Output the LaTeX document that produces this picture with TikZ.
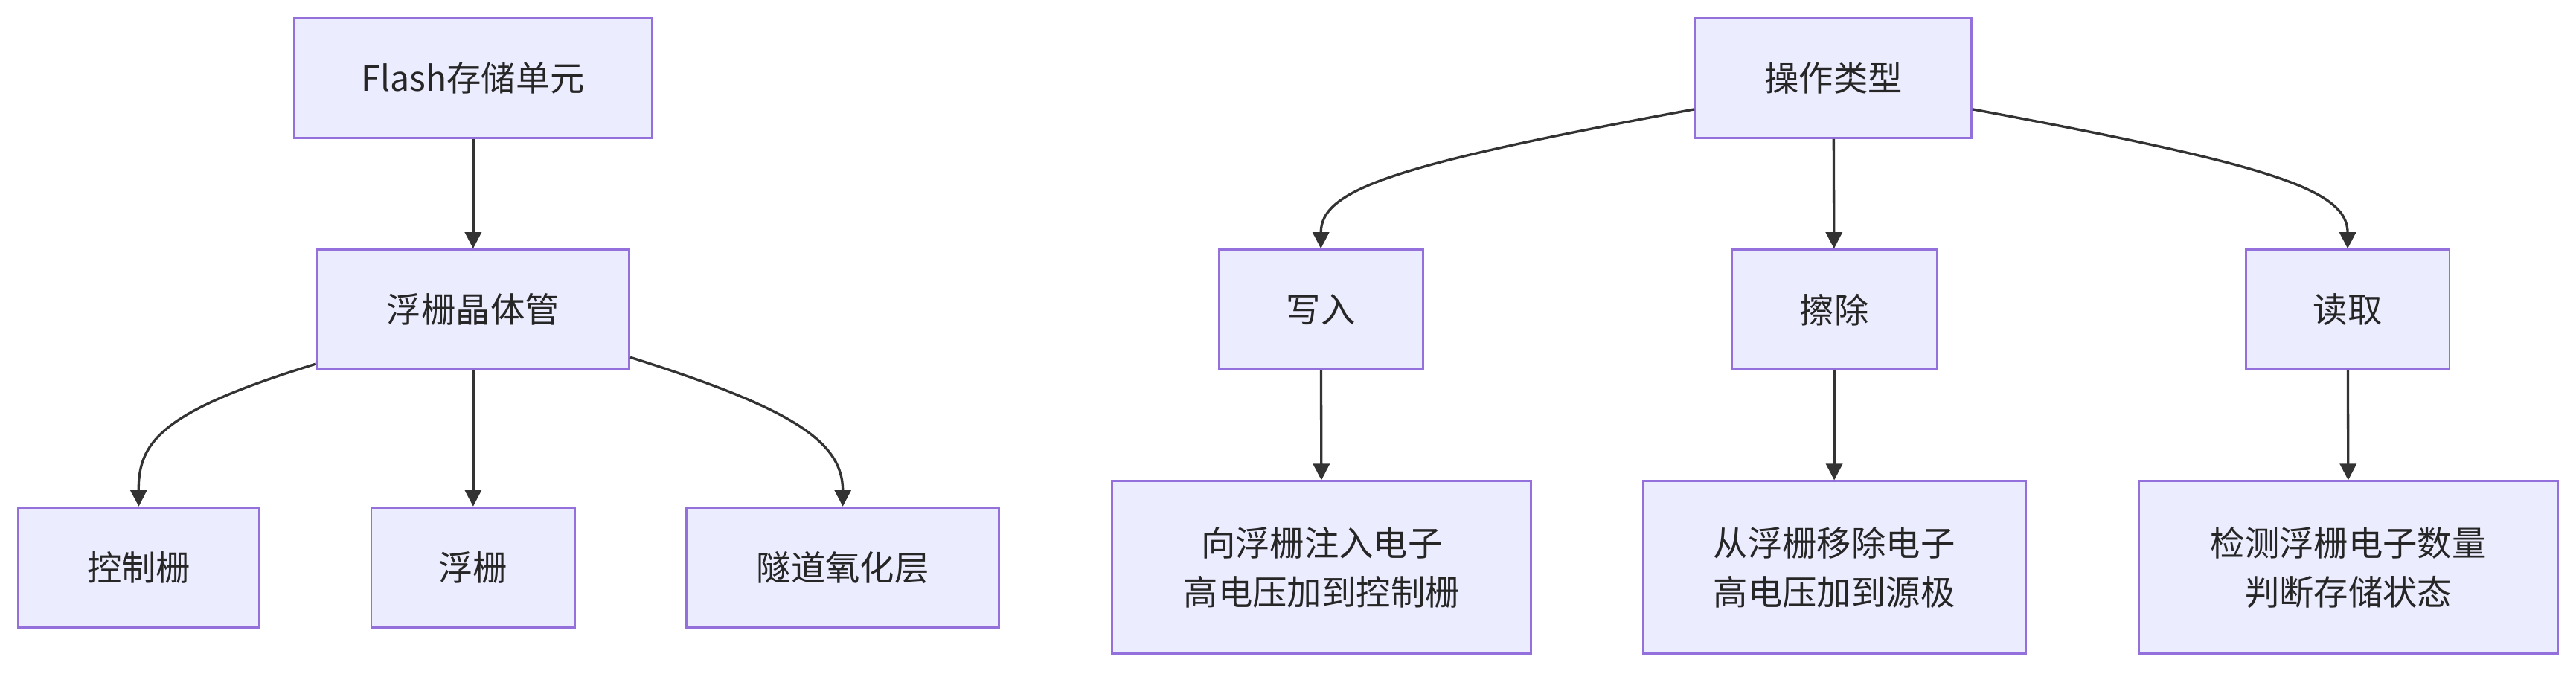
\documentclass[tikz,border=0pt]{standalone}
\usepackage{fontspec}
\setmainfont{Noto Sans CJK SC}
\usetikzlibrary{arrows.meta,calc}
\definecolor{nfill}{HTML}{ECECFF}
\definecolor{nstroke}{HTML}{9370DB}
\definecolor{edge}{HTML}{333333}
\tikzset{
  box/.style={draw=nstroke,fill=nfill,line width=1.3pt,inner sep=0pt,align=center,font=\fontsize{21}{30}\selectfont,text=black!85},
  conn/.style={draw=edge,line width=1.5pt,-{Triangle[length=10pt,width=10pt]}}
}
\begin{document}
\begin{tikzpicture}[x=1pt,y=-1pt]
\useasboundingbox (0,0) rectangle (1568,410.3);
\node[box,minimum width=218,minimum height=73] (fl) at (288,47.5) {Flash存储单元};
\node[box,minimum width=190,minimum height=73] (fg) at (288,188.5) {浮栅晶体管};
\node[box,minimum width=147,minimum height=73] (cg) at (84.5,345.5) {控制栅};
\node[box,minimum width=124,minimum height=73] (fgate) at (288,345.5) {浮栅};
\node[box,minimum width=190,minimum height=73] (tox) at (513,345.5) {隧道氧化层};
\node[box,minimum width=168,minimum height=73] (op) at (1116,47.5) {操作类型};
\node[box,minimum width=124,minimum height=73] (wr) at (804,188.5) {写入};
\node[box,minimum width=125,minimum height=73] (er) at (1116.5,188.5) {擦除};
\node[box,minimum width=124,minimum height=73] (rd) at (1429,188.5) {读取};
\node[box,minimum width=255,minimum height=105] (wd) at (804.5,345.5) {向浮栅注入电子\\高电压加到控制栅};
\node[box,minimum width=233,minimum height=105] (ed) at (1116.5,345.5) {从浮栅移除电子\\高电压加到源极};
\node[box,minimum width=255,minimum height=105] (rdd) at (1429.5,345.5) {检测浮栅电子数量\\判断存储状态};
\draw[conn] (fl) -- (fg);
\draw[conn] (fg) -- (fgate);
\draw[conn] ($(fg.west)+(0,33)$) .. controls (100,250) and (84,268) .. (cg.north);
\draw[conn] ($(fg.east)+(0,29)$) .. controls (480,248) and (513,268) .. (tox.north);
\draw[conn] ($(op.west)+(0,19)$) .. controls (850,100) and (804,115) .. (wr.north);
\draw[conn] (op) -- (er);
\draw[conn] ($(op.east)+(0,19)$) .. controls (1380,100) and (1429,115) .. (rd.north);
\draw[conn] (wr) -- (wd);
\draw[conn] (er) -- (ed);
\draw[conn] (rd) -- (rdd);
\end{tikzpicture}
\end{document}
